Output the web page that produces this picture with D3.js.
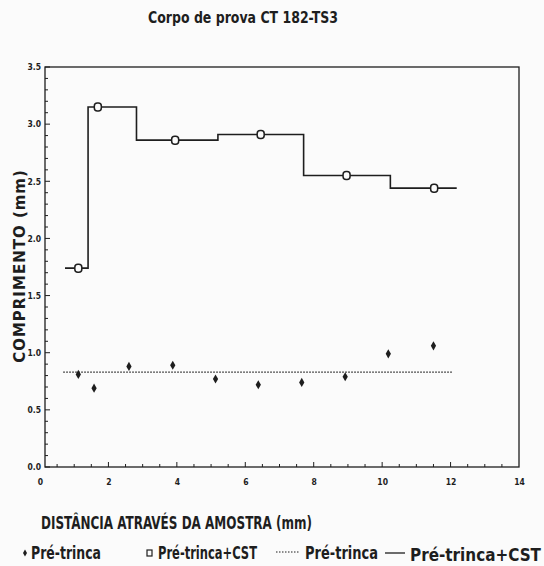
<!DOCTYPE html>
<html><head><meta charset="utf-8">
<script src="https://cdn.jsdelivr.net/npm/d3@7"></script>
<style>
body{margin:0;background:#fbfbfb;}
svg{display:block;}
text{fill:#1e1e1e;}
</style></head><body>
<svg id="chart" width="544" height="566"></svg>
<script>
// ---- data ----
const title = "Corpo de prova CT 182-TS3";
const xLabel = "DISTÂNCIA ATRAVÉS DA AMOSTRA (mm)";
const yLabel = "COMPRIMENTO (mm)";
const xTicks = [0, 2, 4, 6, 8, 10, 12, 14];
const yTicks = [0.0, 0.5, 1.0, 1.5, 2.0, 2.5, 3.0, 3.5];

// Pré-trinca (points)
const preX = [1.12, 1.58, 2.60, 3.88, 5.13, 6.38, 7.65, 8.92, 10.18, 11.50];
const preY = [0.81, 0.69, 0.88, 0.89, 0.77, 0.72, 0.74, 0.79, 0.99, 1.06];
// Pré-trinca mean line (dotted)
const preLineX = [0.68, 12.06];
const preLineY = [0.83, 0.83];

// Pré-trinca+CST (points)
const cstX = [1.12, 1.69, 3.95, 6.45, 8.96, 11.52];
const cstY = [1.74, 3.15, 2.86, 2.91, 2.55, 2.44];
// Pré-trinca+CST step line extents
const cstLineStart = 0.73;
const cstLineEnd = 12.18;

const legendLabels = ["Pré-trinca", "Pré-trinca+CST", "Pré-trinca", "Pré-trinca+CST"];

// ---- drawing ----
const svg = d3.select("#chart");
const font = "'Liberation Sans Narrow','DejaVu Sans Condensed',sans-serif";
const ink = "#1e1e1e";

const x = d3.scaleLinear().domain([0, 14]).range([40, 519]);
const y = d3.scaleLinear().domain([0, 3.5]).range([467, 67]);

// frame
const fx0 = 45, fx1 = x(14), fy0 = y(3.5), fy1 = y(0);
svg.append("rect").attr("x", fx0).attr("y", fy0).attr("width", fx1 - fx0).attr("height", fy1 - fy0)
  .attr("fill", "none").attr("stroke", ink).attr("stroke-width", 1.3);

// minor ticks on left axis
const yMinor = d3.range(0, 3.5001, 0.1);
svg.append("g").selectAll("line").data(yMinor).join("line")
  .attr("x1", fx0).attr("x2", d => fx0 + (Math.abs(d*2 - Math.round(d*2)) < 1e-6 ? 5 : 3))
  .attr("y1", d => y(d)).attr("y2", d => y(d))
  .attr("stroke", ink).attr("stroke-width", 1);
// minor ticks on bottom axis
const xMinor = d3.range(0.5, 14, 0.5);
svg.append("g").selectAll("line").data(xMinor).join("line")
  .attr("x1", d => x(d)).attr("x2", d => x(d))
  .attr("y1", fy1).attr("y2", d => fy1 - (d % 2 === 0 ? 5 : 3))
  .attr("stroke", ink).attr("stroke-width", 1);

// tick labels via axis generators (no domain/lines)
const yAxis = d3.axisLeft(y).tickValues(yTicks).tickFormat(d3.format(".1f")).tickSize(0).tickPadding(0);
const gy = svg.append("g").attr("transform", `translate(${fx0 - 4},0)`).call(yAxis);
gy.select(".domain").remove();
gy.selectAll("text").attr("font-family", font).attr("font-weight", "bold").attr("font-size", 8.5).attr("fill", ink);

const xAxis = d3.axisBottom(x).tickValues(xTicks).tickFormat(d3.format("d")).tickSize(0).tickPadding(0);
const gx = svg.append("g").attr("transform", `translate(0,${fy1 + 12})`).call(xAxis);
gx.select(".domain").remove();
gx.selectAll("text").attr("font-family", font).attr("font-weight", "bold").attr("font-size", 8.5).attr("fill", ink);

// dotted mean line (Pré-trinca)
svg.append("path")
  .attr("d", d3.line().x(d => x(d[0])).y(d => y(d[1]))(preLineX.map((v, i) => [v, preLineY[i]])))
  .attr("fill", "none").attr("stroke", ink).attr("stroke-width", 1.2).attr("stroke-dasharray", "1.5,1.5");

// step line (Pré-trinca+CST)
const stepPts = [[cstLineStart, cstY[0]], ...cstX.map((v, i) => [v, cstY[i]]), [cstLineEnd, cstY[cstY.length - 1]]];
svg.append("path")
  .attr("d", d3.line().x(d => x(d[0])).y(d => y(d[1])).curve(d3.curveStep)(stepPts))
  .attr("fill", "none").attr("stroke", ink).attr("stroke-width", 1.6);

// CST markers (open)
svg.append("g").selectAll("rect").data(cstX.map((v, i) => [v, cstY[i]])).join("rect")
  .attr("x", d => x(d[0]) - 3.5).attr("y", d => y(d[1]) - 4)
  .attr("width", 7).attr("height", 8).attr("rx", 3)
  .attr("fill", "#fbfbfb").attr("stroke", ink).attr("stroke-width", 1.5);

// Pré-trinca markers (filled)
svg.append("g").selectAll("path").data(preX.map((v, i) => [v, preY[i]])).join("path")
  .attr("transform", d => `translate(${x(d[0])},${y(d[1])})`)
  .attr("d", d3.symbol(d3.symbolDiamond, 24))
  .attr("fill", ink);

// title
svg.append("text").attr("x", 148).attr("y", 23)
  .attr("textLength", 190).attr("lengthAdjust", "spacingAndGlyphs")
  .attr("font-family", font).attr("font-weight", "bold").attr("font-size", 16).text(title);

// axis titles
svg.append("text").attr("x", 41).attr("y", 529)
  .attr("textLength", 271).attr("lengthAdjust", "spacingAndGlyphs")
  .attr("font-family", font).attr("font-weight", "bold").attr("font-size", 18).text(xLabel);
svg.append("text").attr("transform", "translate(25,266) rotate(-90)").attr("text-anchor", "middle")
  .attr("font-family", "'DejaVu Sans',sans-serif").attr("font-weight", "bold").attr("font-size", 15)
  .attr("letter-spacing", 1).text(yLabel);

// legend
const ly = 559;
const lg = svg.append("g").attr("font-family", font).attr("font-weight", "bold").attr("font-size", 17);
lg.append("path").attr("transform", `translate(25,${ly - 6})`).attr("d", d3.symbol(d3.symbolDiamond, 14)).attr("fill", ink);
lg.append("text").attr("x", 31).attr("y", ly).attr("textLength", 70).attr("lengthAdjust", "spacingAndGlyphs").text(legendLabels[0]);
lg.append("rect").attr("x", 147).attr("y", ly - 9).attr("width", 5).attr("height", 6).attr("fill", "none").attr("stroke", ink).attr("stroke-width", 1.2);
lg.append("text").attr("x", 158).attr("y", ly).attr("textLength", 99).attr("lengthAdjust", "spacingAndGlyphs").text(legendLabels[1]);
lg.append("line").attr("x1", 276).attr("x2", 300).attr("y1", ly - 7).attr("y2", ly - 7)
  .attr("stroke", ink).attr("stroke-width", 1).attr("stroke-dasharray", "1.5,1.5");
lg.append("text").attr("x", 305).attr("y", ly).attr("textLength", 73).attr("lengthAdjust", "spacingAndGlyphs").text(legendLabels[2]);
lg.append("line").attr("x1", 385).attr("x2", 405).attr("y1", ly - 6).attr("y2", ly - 6)
  .attr("stroke", ink).attr("stroke-width", 1.3);
lg.append("text").attr("x", 410).attr("y", ly + 2).attr("textLength", 131).attr("lengthAdjust", "spacingAndGlyphs").text(legendLabels[3]);
</script>
</body></html>
